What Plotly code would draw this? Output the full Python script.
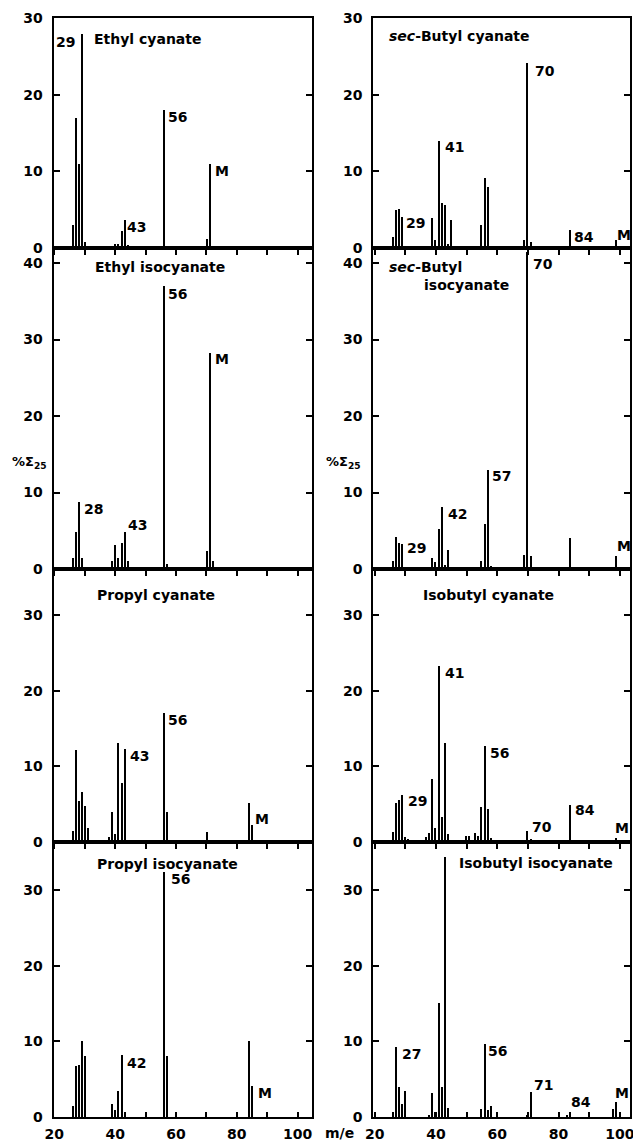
import plotly.graph_objects as go

# ---------------- data (m/e, %Σ25) ----------------
titles = ["Ethyl cyanate", "sec-Butyl cyanate",
          "Ethyl isocyanate", "sec-Butyl isocyanate",
          "Propyl cyanate", "Isobutyl cyanate",
          "Propyl isocyanate", "Isobutyl isocyanate"]

ethyl_cyanate_mz = [26, 27, 28, 29, 30, 40, 41, 42, 43, 44, 56, 70, 71, 72]
ethyl_cyanate_int = [3.0, 17.0, 10.9, 27.9, 0.8, 0.5, 0.5, 2.2, 3.6, 0.4, 18.0, 1.2, 11.0, 0.3]

sec_butyl_cyanate_mz = [26, 27, 28, 29, 39, 40, 41, 42, 43, 44, 45, 55, 56, 57, 58, 69, 70, 71, 84, 99]
sec_butyl_cyanate_int = [1.4, 5.0, 5.1, 4.0, 3.9, 1.0, 14.0, 5.9, 5.6, 0.5, 3.6, 3.0, 9.1, 8.0, 0.3, 1.1, 24.1, 0.8, 2.3, 1.0]

ethyl_isocyanate_mz = [26, 27, 28, 29, 39, 40, 41, 42, 43, 44, 56, 57, 70, 71, 72]
ethyl_isocyanate_int = [1.5, 4.8, 8.7, 1.5, 1.1, 3.1, 1.5, 3.4, 4.8, 1.0, 37.0, 0.7, 2.4, 28.3, 1.1]

sec_butyl_isocyanate_mz = [26, 27, 28, 29, 39, 40, 41, 42, 43, 44, 55, 56, 57, 58, 69, 70, 71, 84, 85, 99]
sec_butyl_isocyanate_int = [1.0, 4.2, 3.4, 3.3, 1.5, 0.9, 5.2, 8.1, 0.5, 2.5, 1.0, 5.9, 12.9, 0.4, 1.8, 41.5, 1.7, 4.1, 0.2, 1.7]

propyl_cyanate_mz = [26, 27, 28, 29, 30, 31, 38, 39, 40, 41, 42, 43, 56, 57, 70, 84, 85]
propyl_cyanate_int = [1.4, 12.1, 5.4, 6.6, 4.7, 1.8, 0.7, 4.0, 1.1, 13.1, 7.8, 12.3, 17.1, 4.0, 1.3, 5.1, 2.2]

isobutyl_cyanate_mz = [26, 27, 28, 29, 30, 31, 37, 38, 39, 40, 41, 42, 43, 44, 50, 51, 53, 54, 55, 56, 57, 58, 70, 71, 84, 85, 98, 99]
isobutyl_cyanate_int = [1.3, 5.1, 5.5, 6.2, 0.7, 0.4, 0.6, 1.2, 8.3, 1.8, 23.2, 3.3, 13.1, 1.1, 0.8, 0.8, 1.2, 0.8, 4.6, 12.7, 4.4, 0.5, 1.4, 0.4, 4.9, 0.3, 0.3, 0.5]

propyl_isocyanate_mz = [26, 27, 28, 29, 30, 39, 40, 41, 42, 43, 56, 57, 84, 85]
propyl_isocyanate_int = [1.5, 6.7, 6.9, 10.0, 8.0, 1.7, 0.9, 3.4, 8.2, 0.6, 32.4, 8.1, 10.0, 4.1]

isobutyl_isocyanate_mz = [26, 27, 28, 29, 30, 38, 39, 40, 41, 42, 43, 44, 55, 56, 57, 58, 70, 71, 83, 84, 98, 99]
isobutyl_isocyanate_int = [0.6, 9.2, 4.0, 1.7, 3.5, 0.3, 3.2, 0.7, 15.0, 3.9, 34.4, 1.2, 1.0, 9.7, 0.9, 1.5, 0.2, 3.3, 0.2, 0.7, 1.0, 2.0]

spectra = [
    (ethyl_cyanate_mz, ethyl_cyanate_int),
    (sec_butyl_cyanate_mz, sec_butyl_cyanate_int),
    (ethyl_isocyanate_mz, ethyl_isocyanate_int),
    (sec_butyl_isocyanate_mz, sec_butyl_isocyanate_int),
    (propyl_cyanate_mz, propyl_cyanate_int),
    (isobutyl_cyanate_mz, isobutyl_cyanate_int),
    (propyl_isocyanate_mz, propyl_isocyanate_int),
    (isobutyl_isocyanate_mz, isobutyl_isocyanate_int),
]

peak_labels = [
    ["29", "56", "M", "43"],
    ["70", "41", "29", "84", "M"],
    ["56", "M", "28", "43"],
    ["70", "57", "42", "29", "M"],
    ["56", "43", "M"],
    ["41", "56", "29", "70", "84", "M"],
    ["56", "42", "M"],
    ["56", "27", "71", "84", "M"],
]

x_tick_vals = [20, 40, 60, 80, 100]
x_tick_text = ["20", "40", "60", "80", "100"]
x_minor_step = 10
y_tick_vals = [0, 10, 20, 30, 40]

# ---------------- layout / style ----------------
W, H = 633, 1141
FONT = "DejaVu Sans"
TXT = dict(family=FONT, size=14, color="black", weight="bold")
col_px = [(53.5, 312.0), (373.3, 630.0)]
col_xrange = [(19.75, 104.7), (19.55, 103.3)]
row_px = [(18, 248), (248, 569), (569, 842), (842, 1117)]
row_yrange = [30.0, 41.96, 36.08, 36.34]

# label placements (x, y in data units, anchor)
label_pos = [
    [(27.6, 26.9, "right"), (56.6, 17.1, "left"), (72.3, 10.0, "left"), (43.3, 2.7, "left")],
    [(71.7, 23.1, "left"), (42.3, 13.2, "left"), (29.5, 3.2, "left"), (84.5, 1.4, "left"), (98.4, 1.7, "left")],
    [(56.6, 36.0, "left"), (72.1, 27.4, "left"), (29.1, 7.9, "left"), (43.6, 5.75, "left")],
    [(71.1, 39.9, "left"), (57.5, 12.1, "left"), (43.2, 7.15, "left"), (29.8, 2.7, "left"), (98.4, 3.0, "left")],
    [(56.75, 16.1, "left"), (44.2, 11.4, "left"), (85.4, 3.0, "left")],
    [(42.3, 22.4, "left"), (57.0, 11.75, "left"), (30.3, 5.4, "left"), (70.6, 2.0, "left"), (84.7, 4.2, "left"), (97.8, 1.8, "left")],
    [(57.8, 31.5, "left"), (43.3, 7.2, "left"), (86.3, 3.2, "left")],
    [(56.4, 8.7, "left"), (28.2, 8.3, "left"), (71.4, 4.2, "left"), (83.3, 2.0, "left"), (97.8, 3.2, "left")],
]
title_pos = [(32.3, 27.3), (24.0, 27.6), (32.7, 39.5), (24.0, 39.5),
             (33.5, 32.6), (35.2, 32.7), (33.4, 33.4), (46.9, 33.5)]

fig = go.Figure()
layout = dict(width=W, height=H, margin=dict(l=0, r=0, t=0, b=0, autoexpand=False),
              paper_bgcolor="white", plot_bgcolor="white", showlegend=False,
              font=TXT, bargap=0, template="none")
annotations = []

for i, (mz, inten) in enumerate(spectra):
    r, c = divmod(i, 2)
    n = i + 1
    xa = "x" if n == 1 else f"x{n}"
    ya = "y" if n == 1 else f"y{n}"
    fig.add_trace(go.Bar(x=mz, y=inten, width=0.45, marker=dict(color="black", line=dict(width=0)),
                         xaxis=xa, yaxis=ya, hoverinfo="x+y"))
    x0, x1 = col_px[c]
    t0, t1 = row_px[r]
    bottom = (r == 3)
    tdir = "inside" if bottom else "outside"
    layout["xaxis" if n == 1 else f"xaxis{n}"] = dict(
        domain=[x0 / W, x1 / W], range=list(col_xrange[c]), anchor=ya, automargin=False,
        tickmode="array", tickvals=x_tick_vals, ticktext=x_tick_text, showticklabels=bottom,
        ticks=tdir, ticklen=5, tickwidth=1.5, tickcolor="black",
        minor=dict(ticks=tdir, dtick=x_minor_step, tick0=20, ticklen=5, tickwidth=1.5,
                   tickcolor="black", showgrid=False),
        showline=True, linecolor="black", linewidth=2, mirror=True,
        showgrid=False, zeroline=False, ticklabelstandoff=3, ticklabeloverflow="allow",
        tickfont=TXT)
    layout["yaxis" if n == 1 else f"yaxis{n}"] = dict(
        domain=[1 - t1 / H, 1 - t0 / H], range=[0, row_yrange[r]], anchor=xa, automargin=False,
        tickvals=y_tick_vals, ticks="inside", ticklen=6, tickwidth=1.5, tickcolor="black",
        showline=True, linecolor="black", linewidth=2, mirror="ticks",
        showgrid=False, zeroline=False, ticklabelstandoff=6, ticklabeloverflow="allow",
        tickfont=TXT)
    # title
    tx, ty = title_pos[i]
    title_text = titles[i]
    if i == 1:
        title_text = "<i>sec</i>-Butyl cyanate"
    if i == 3:
        title_text = "<i>sec</i>-Butyl"
        annotations.append(dict(text="isocyanate", x=35.5, y=37.1, xref=xa, yref=ya,
                                xanchor="left", yanchor="middle", showarrow=False, font=TXT))
    annotations.append(dict(text=title_text, x=tx, y=ty, xref=xa, yref=ya,
                            xanchor="left", yanchor="middle", showarrow=False, font=TXT))
    for lab, (lx, ly, anc) in zip(peak_labels[i], label_pos[i]):
        annotations.append(dict(text=lab, x=lx, y=ly, xref=xa, yref=ya,
                                xanchor=anc, yanchor="middle", showarrow=False, font=TXT))

# y axis titles and x axis title
for px in (29, 343):
    annotations.append(dict(text="%Σ<sub>25</sub>", x=px / W, y=1 - 462 / H, xref="paper", yref="paper",
                            xanchor="center", yanchor="middle", showarrow=False,
                            font=dict(family=FONT, size=13, color="black", weight="bold")))
annotations.append(dict(text="m/e", x=339 / W, y=1 - 1133 / H, xref="paper", yref="paper",
                        xanchor="center", yanchor="middle", showarrow=False, font=TXT))

layout["annotations"] = annotations
fig.update_layout(**layout)
fig.write_html("out.html", config={"displayModeBar": False},
               post_script="document.body.style.margin='0px';document.body.style.padding='0px';")
